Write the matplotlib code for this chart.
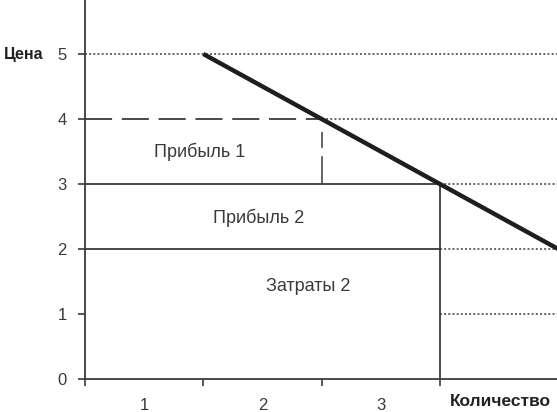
import matplotlib.pyplot as plt

plt.rcParams['font.family'] = ['Liberation Sans', 'DejaVu Sans']
plt.rcParams['lines.scale_dashes'] = False

# demand line
demand_q = [1, 4]
demand_p = [5, 2]

# price levels
p_max = 5
p1 = 4
p2 = 3
cost = 2
low = 1
q1 = 2
q2 = 3

x_labels = ['1', '2', '3']
x_label_pos = [0.5, 1.5, 2.5]
y_ticks = [0, 1, 2, 3, 4, 5]

ink = '#3a3a3a'
dots = (0, (1.4, 1.6))
longdash = (0, (19.5, 7))

fig = plt.figure(figsize=(5.57, 4.12), dpi=100)
ax = fig.add_axes([0.1526, 0.08, 0.8474, 0.92])

xmax = 3.99
ax.set_xlim(0, xmax)
ax.set_ylim(0, 5.83)

# dotted guide lines to the right
ax.plot([0, xmax], [p_max, p_max], color=ink, lw=1.1, ls=dots)
ax.plot([q1, xmax], [p1, p1], color=ink, lw=1.1, ls=dots)
ax.plot([q2, xmax], [p2, p2], color=ink, lw=1.1, ls=dots)
ax.plot([q2, xmax], [cost, cost], color=ink, lw=1.1, ls=dots)
ax.plot([q2, xmax], [low, low], color=ink, lw=1.1, ls=dots)

# profit 1 box
ax.plot([0, q1], [p1, p1], color=ink, lw=1.3, ls=longdash)
ax.plot([q1, q1], [p2, p1 - 0.2], color=ink, lw=1.1, ls=(0, (20, 6)))

# profit 2 / costs boxes
ax.plot([0, q2], [p2, p2], color=ink, lw=1.3)
ax.plot([0, q2], [cost, cost], color=ink, lw=1.3)
ax.plot([q2, q2], [0, p2], color=ink, lw=1.3)

# demand
ax.plot(demand_q, demand_p, color='#1e1e1e', lw=3.2, solid_capstyle='butt')

ax.text(0.97, 3.5, 'Прибыль 1', fontsize=13, color=ink, ha='center', va='center')
ax.text(1.47, 2.48, 'Прибыль 2', fontsize=13, color=ink, ha='center', va='center')
ax.text(1.89, 1.42, 'Затраты 2', fontsize=13, color=ink, ha='center', va='center')

for s in ['top', 'right']:
    ax.spines[s].set_visible(False)
for s in ['left', 'bottom']:
    ax.spines[s].set_color(ink)
    ax.spines[s].set_linewidth(1.3)

ax.set_yticks(y_ticks)
ax.set_yticklabels([str(v) for v in y_ticks], fontsize=12, color=ink)
ax.set_xticks([0, 1, 2, 3])
ax.set_xticklabels([])
ax.set_xticks(x_label_pos, minor=True)
ax.set_xticklabels(x_labels, minor=True, fontsize=12, color=ink)
ax.tick_params(axis='x', which='minor', length=0, pad=14)
ax.tick_params(axis='x', which='major', length=5, color=ink, width=1.2)
ax.tick_params(axis='y', length=5, color=ink, width=1.2, pad=8)

fig.text(0.042, 1 - 54 / 412, 'Цена', fontsize=11.5, fontweight='bold', color='#222222',
         ha='center', va='center')
fig.text(0.898, 1 - 401 / 412, 'Количество', fontsize=12.5, fontweight='bold', color='#222222',
         ha='center', va='center')

fig.savefig('out.png', dpi=100)
